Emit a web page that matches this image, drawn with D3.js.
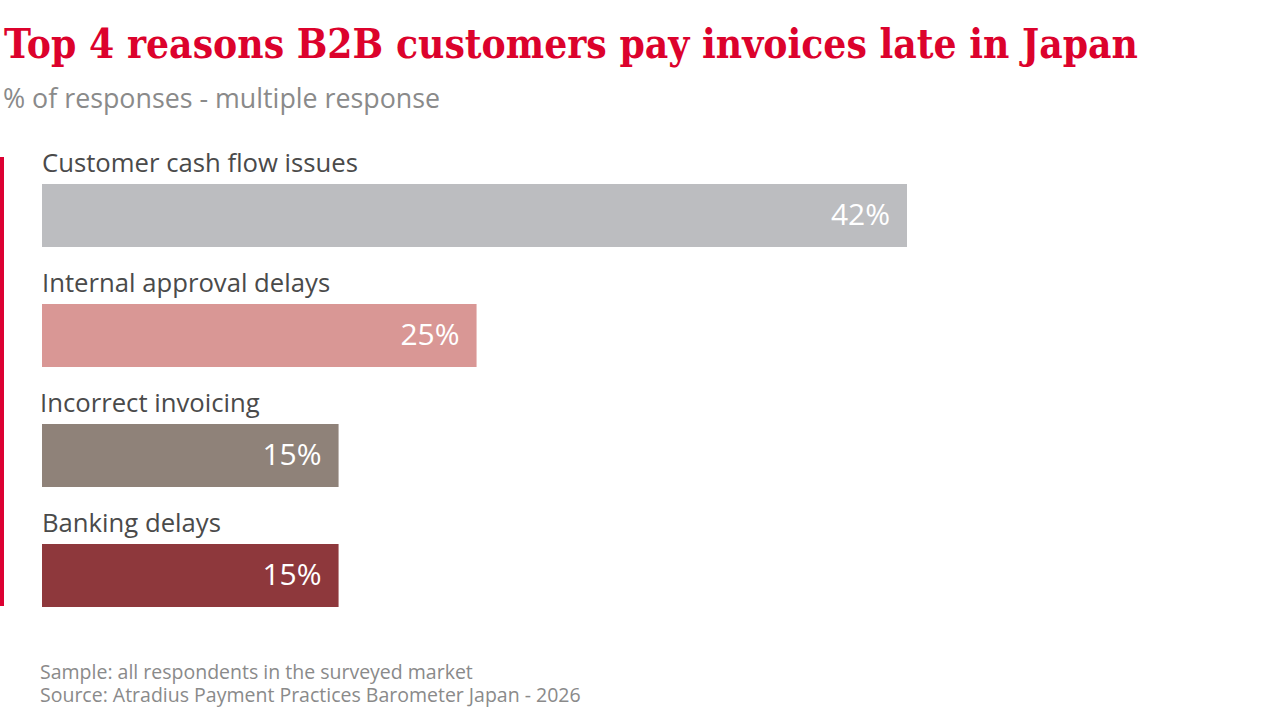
<!DOCTYPE html>
<html>
<head>
<meta charset="utf-8">
<script src="https://cdn.jsdelivr.net/npm/d3@7"></script>
<style>
  html, body { margin: 0; padding: 0; background: #fff; }
  svg { display: block; }
</style>
</head>
<body>
<div id="chart"></div>
<script>
var categories = ["Customer cash flow issues", "Internal approval delays", "Incorrect invoicing", "Banking delays"];
// printed shares
var shares = [42, 25, 15, 15];
// bar lengths as drawn in the original (not to the printed share)
var barValues = [42, 21.1, 14.4, 14.4];
var colors = ["#bcbdc0", "#d99795", "#8f8279", "#8e383c"];
var footnotes = ["Sample: all respondents in the surveyed market",
                 "Source: Atradius Payment Practices Barometer Japan - 2026"];

var width = 1280, height = 720;
var sans = "'Open Sans', 'Noto Sans', sans-serif";

var svg = d3.select("#chart").append("svg")
  .attr("width", width)
  .attr("height", height)
  .attr("viewBox", "0 0 " + width + " " + height);

svg.append("text")
  .attr("x", 4)
  .attr("y", 58)
  .attr("font-family", "'DejaVu Serif', serif")
  .attr("font-weight", "bold")
  .attr("font-size", "41px")
  .attr("fill", "#dc022c")
  .attr("textLength", 1134)
  .attr("lengthAdjust", "spacingAndGlyphs")
  .text("Top 4 reasons B2B customers pay invoices late in Japan");

svg.append("text")
  .attr("x", 3)
  .attr("y", 108)
  .attr("font-family", sans)
  .attr("font-size", "26.8px")
  .attr("fill", "#8a8a8a")
  .text("% of responses - multiple response");

var x = d3.scaleLinear().domain([0, 42]).range([0, 865]);
var y = d3.scaleBand().domain(categories).range([151, 631]);

// red rule at the left
svg.append("rect")
  .attr("x", 0)
  .attr("y", 157)
  .attr("width", 4)
  .attr("height", 449)
  .attr("fill", "#dc0032");

var rows = svg.selectAll("g.row")
  .data(categories)
  .enter().append("g")
  .attr("class", "row")
  .attr("transform", function(d) { return "translate(42," + y(d) + ")"; });

rows.append("text")
  .attr("x", function(d, i) { return i == 2 ? -2 : 0; })
  .attr("y", 21)
  .attr("font-family", sans)
  .attr("font-size", "25.7px")
  .attr("fill", "#4a4a4a")
  .text(function(d) { return d; });

rows.append("rect")
  .attr("x", 0)
  .attr("y", 33)
  .attr("width", function(d, i) { return x(barValues[i]); })
  .attr("height", 63)
  .attr("fill", function(d, i) { return colors[i]; });

rows.append("text")
  .attr("x", function(d, i) { return x(barValues[i]) - 17; })
  .attr("y", 74)
  .attr("text-anchor", "end")
  .attr("font-family", sans)
  .attr("font-size", "30px")
  .attr("fill", "#fff")
  .text(function(d, i) { return shares[i] + "%"; });

svg.selectAll("text.foot")
  .data(footnotes)
  .enter().append("text")
  .attr("class", "foot")
  .attr("x", 40)
  .attr("y", function(d, i) { return 679 + i * 23; })
  .attr("font-family", sans)
  .attr("font-size", "19.5px")
  .attr("fill", "#8a8a8a")
  .text(function(d) { return d; });
</script>
</body>
</html>
